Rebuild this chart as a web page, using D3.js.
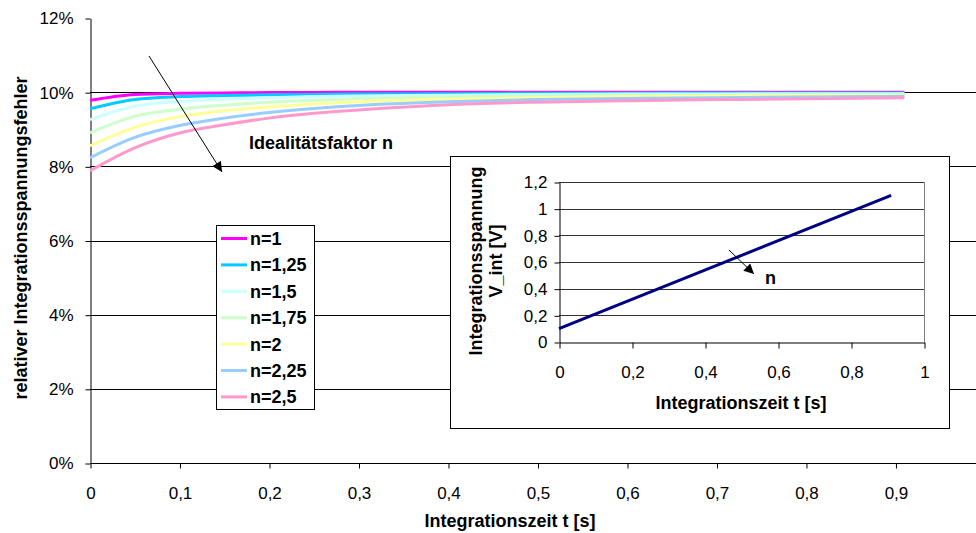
<!DOCTYPE html>
<html>
<head>
<meta charset="utf-8">
<script src="https://cdn.jsdelivr.net/npm/d3@7"></script>
<style>
  body { margin: 0; background: #fff; }
  svg { display: block; font-family: "Liberation Sans", Arial, sans-serif; }
  .bold { font-weight: bold; }
</style>
</head>
<body>
<svg id="chart" width="976" height="533"></svg>
<script>
// integration time [s] of the sampled points
const tValues = [0, 0.05, 0.1, 0.15, 0.2, 0.25, 0.3, 0.4, 0.5, 0.6, 0.7, 0.8, 0.91];

// relative integration voltage error [%] per ideality factor
const errN1 = [9.78, 9.94, 9.97, 9.98, 9.99, 9.99, 10.0, 10.0, 10.0, 10.0, 10.0, 10.0, 10.0];
const errN125 = [9.55, 9.8, 9.88, 9.91, 9.93, 9.94, 9.95, 9.96, 9.97, 9.97, 9.98, 9.98, 9.98];
const errN15 = [9.26, 9.62, 9.75, 9.81, 9.85, 9.88, 9.9, 9.92, 9.94, 9.95, 9.95, 9.96, 9.96];
const errN175 = [8.9, 9.35, 9.54, 9.65, 9.73, 9.78, 9.82, 9.87, 9.9, 9.91, 9.92, 9.93, 9.94];
const errN2 = [8.55, 9.05, 9.34, 9.5, 9.6, 9.68, 9.74, 9.81, 9.85, 9.88, 9.9, 9.91, 9.92];
const errN225 = [8.23, 8.78, 9.1, 9.3, 9.45, 9.56, 9.64, 9.74, 9.8, 9.83, 9.85, 9.87, 9.89];
const errN25 = [7.88, 8.5, 8.9, 9.12, 9.3, 9.43, 9.52, 9.66, 9.73, 9.77, 9.8, 9.82, 9.85];

const seriesNames = ["n=1", "n=1,25", "n=1,5", "n=1,75", "n=2", "n=2,25", "n=2,5"];

// axis ticks
const mainXTicks = [0, 0.1, 0.2, 0.3, 0.4, 0.5, 0.6, 0.7, 0.8, 0.9];
const mainYTicks = [0, 2, 4, 6, 8, 10, 12];

// inset: integration voltage V_int [V]
const insetT = [0, 0.91];
const insetV = [0.1, 1.1];
const insetXTicks = [0, 0.2, 0.4, 0.6, 0.8, 1];
const insetYTicks = [0, 0.2, 0.4, 0.6, 0.8, 1, 1.2];

const colors = ["#ff00ff", "#00ccff", "#ccffff", "#ccffcc", "#ffff99", "#99ccff", "#ff99cc"];
const allSeries = [errN1, errN125, errN15, errN175, errN2, errN225, errN25];

const de = d3.formatLocale({ decimal: ",", thousands: ".", grouping: [3], currency: ["", " €"] });
const fmt = de.format(".1~f");

const svg = d3.select("#chart");

svg.append("defs").append("marker")
  .attr("id", "arrow")
  .attr("viewBox", "0 0 10 10")
  .attr("refX", 10).attr("refY", 5)
  .attr("markerWidth", 12).attr("markerHeight", 10)
  .attr("markerUnits", "userSpaceOnUse")
  .attr("orient", "auto")
  .append("path").attr("d", "M0,0L10,5L0,10Z").attr("fill", "#000");

// ---------- main chart ----------
const x = d3.scaleLinear().domain([0, 0.99]).range([90, 976]);
const y = d3.scaleLinear().domain([0, 12]).range([463, 18]);

svg.append("g")
  .selectAll("line")
  .data(mainYTicks.filter((d) => d > 0 && d < 12))
  .enter()
  .append("line")
  .attr("x1", x(0)).attr("x2", 976)
  .attr("y1", (d) => Math.round(y(d)) + 0.5)
  .attr("y2", (d) => Math.round(y(d)) + 0.5)
  .attr("stroke", "#000");

const yAxis = svg.append("g")
  .attr("transform", `translate(${x(0) + 0.5},0.5)`)
  .call(d3.axisLeft(y).tickValues(mainYTicks).tickFormat((d) => d + "%").tickSize(5).tickSizeOuter(0).tickPadding(12));
yAxis.selectAll("text").attr("font-size", 17).attr("fill", "#000");
yAxis.select(".domain").attr("stroke", "#000");

const xAxis = svg.append("g")
  .attr("transform", `translate(0.5,${Math.round(y(0)) + 0.5})`)
  .call(d3.axisBottom(x).tickValues(mainXTicks).tickFormat(fmt).tickSize(5).tickSizeOuter(0).tickPadding(18));
xAxis.selectAll("text").attr("font-size", 17).attr("fill", "#000");
xAxis.select(".domain").attr("d", `M${x(0)},0H976`).attr("stroke", "#000");

const line = d3.line()
  .x((d, i) => x(tValues[i]))
  .y((d) => y(d))
  .curve(d3.curveMonotoneX);

svg.append("g")
  .selectAll("path")
  .data(allSeries)
  .enter()
  .append("path")
  .attr("d", line)
  .attr("fill", "none")
  .attr("stroke", (d, i) => colors[i])
  .attr("stroke-width", 3);

svg.append("text")
  .attr("class", "bold")
  .attr("x", 510).attr("y", 527)
  .attr("text-anchor", "middle")
  .attr("font-size", 18)
  .text("Integrationszeit t [s]");

svg.append("text")
  .attr("class", "bold")
  .attr("transform", "translate(27,238) rotate(-90)")
  .attr("text-anchor", "middle")
  .attr("font-size", 18)
  .text("relativer Integrationsspannungsfehler");

// arrow + label
svg.append("line")
  .attr("x1", 149).attr("y1", 56).attr("x2", 222).attr("y2", 172)
  .attr("stroke", "#000").attr("stroke-width", 1)
  .attr("marker-end", "url(#arrow)");

svg.append("text")
  .attr("class", "bold")
  .attr("x", 249).attr("y", 149)
  .attr("font-size", 18)
  .text("Idealitätsfaktor n");

// legend
const legend = svg.append("g").attr("transform", "translate(216,225)");
legend.append("rect")
  .attr("x", 0.5).attr("y", 0.5).attr("width", 98).attr("height", 184)
  .attr("fill", "#fff").attr("stroke", "#000");
const items = legend.selectAll("g.item")
  .data(seriesNames)
  .enter()
  .append("g")
  .attr("class", "item")
  .attr("transform", (d, i) => `translate(0,${13.5 + i * 26.4})`);
items.append("line")
  .attr("x1", 5).attr("x2", 31)
  .attr("stroke", (d, i) => colors[i])
  .attr("stroke-width", 3);
items.append("text")
  .attr("class", "bold")
  .attr("x", 34).attr("y", 6.5)
  .attr("font-size", 18)
  .text((d) => d);

// ---------- inset ----------
const inset = svg.append("g");
inset.append("rect")
  .attr("x", 450.5).attr("y", 156.5).attr("width", 499).attr("height", 272)
  .attr("fill", "#fff").attr("stroke", "#000");

const ix = d3.scaleLinear().domain([0, 1]).range([559, 924]);
const iy = d3.scaleLinear().domain([0, 1.2]).range([342, 182]);

inset.append("g")
  .selectAll("line")
  .data(insetYTicks.filter((d) => d > 0))
  .enter()
  .append("line")
  .attr("x1", ix(0)).attr("x2", ix(1))
  .attr("y1", (d) => Math.round(iy(d)) + 0.5)
  .attr("y2", (d) => Math.round(iy(d)) + 0.5)
  .attr("stroke", "#333");

inset.append("line")
  .attr("x1", ix(1) + 0.5).attr("x2", ix(1) + 0.5)
  .attr("y1", iy(1.2)).attr("y2", iy(0))
  .attr("stroke", "#808080");

const iyAxis = inset.append("g")
  .attr("transform", `translate(${ix(0) + 0.5},0.5)`)
  .call(d3.axisLeft(iy).tickValues(insetYTicks).tickFormat(fmt).tickSize(5).tickSizeOuter(0).tickPadding(7));
iyAxis.selectAll("text").attr("font-size", 17).attr("fill", "#000");
iyAxis.select(".domain").attr("stroke", "#000");

const ixAxis = inset.append("g")
  .attr("transform", `translate(0.5,${iy(0) + 0.5})`)
  .call(d3.axisBottom(ix).tickValues(insetXTicks).tickFormat(fmt).tickSize(6).tickSizeOuter(0).tickPadding(17));
ixAxis.selectAll("text").attr("font-size", 17).attr("fill", "#000");
ixAxis.select(".domain").attr("stroke", "#000");

inset.append("path")
  .datum(insetV)
  .attr("d", d3.line().x((d, i) => ix(insetT[i])).y((d) => iy(d)))
  .attr("fill", "none")
  .attr("stroke", "#000080")
  .attr("stroke-width", 3);

inset.append("line")
  .attr("x1", 729).attr("y1", 250).attr("x2", 754).attr("y2", 274)
  .attr("stroke", "#000").attr("stroke-width", 1)
  .attr("marker-end", "url(#arrow)");

inset.append("text")
  .attr("class", "bold")
  .attr("x", 765).attr("y", 284)
  .attr("font-size", 18)
  .text("n");

inset.append("text")
  .attr("class", "bold")
  .attr("x", 741).attr("y", 409)
  .attr("text-anchor", "middle")
  .attr("font-size", 18)
  .text("Integrationszeit t [s]");

const iTitle = inset.append("text")
  .attr("class", "bold")
  .attr("transform", "translate(482,261) rotate(-90)")
  .attr("text-anchor", "middle")
  .attr("font-size", 18);
iTitle.append("tspan").attr("x", 0).attr("y", 0).text("Integrationsspannung");
iTitle.append("tspan").attr("x", 0).attr("y", 20).text("V_int [V]");
</script>
</body>
</html>
